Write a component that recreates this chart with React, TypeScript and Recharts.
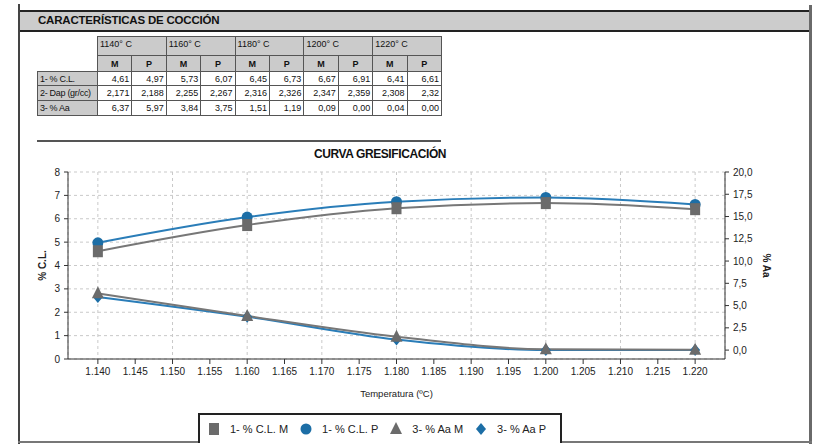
import React from 'react';
import { LineChart, Line, XAxis, YAxis, CartesianGrid } from 'recharts';

const FONT = '"Liberation Sans", Arial, sans-serif';

// firing temperatures (°C)
const temps = [1140, 1160, 1180, 1200, 1220];

// 1- % C.L. (linear shrinkage)
const clM = [4.61, 5.73, 6.45, 6.67, 6.41];
const clP = [4.97, 6.07, 6.73, 6.91, 6.61];

// 2- Dap (g/cc)
const dapM = [2.171, 2.255, 2.316, 2.347, 2.308];
const dapP = [2.188, 2.267, 2.326, 2.359, 2.32];

// 3- % Aa (water absorption)
const aaM = [6.37, 3.84, 1.51, 0.09, 0.04];
const aaP = [5.97, 3.75, 1.19, 0.0, 0.0];

const xTicks = [1140, 1145, 1150, 1155, 1160, 1165, 1170, 1175, 1180, 1185, 1190, 1195, 1200, 1205, 1210, 1215, 1220];
const leftTicks = [0, 1, 2, 3, 4, 5, 6, 7, 8];
const rightTicks = [0, 2.5, 5, 7.5, 10, 12.5, 15, 17.5, 20];

const GRAY = '#6b6b6b';
const GRAY_LINE = '#777777';
const BLUE = '#1c6ea6';
const BLUE_LINE = '#2a7db8';

const chartData = temps.map((t, i) => ({
  temp: t,
  clM: clM[i],
  clP: clP[i],
  aaM: aaM[i],
  aaP: aaP[i],
}));

const comma = (v: number, d?: number) => (d == null ? String(v) : v.toFixed(d)).replace('.', ',');
const thousands = (v: number) => `${Math.floor(v / 1000)}.${String(v % 1000).padStart(3, '0')}`;

const tableRows = [
  { label: '1- % C.L.', m: clM.map((v) => comma(v, 2)), p: clP.map((v) => comma(v, 2)) },
  { label: '2- Dap (gr/cc)', m: dapM.map((v) => comma(v)), p: dapP.map((v) => comma(v)) },
  { label: '3- % Aa', m: aaM.map((v) => comma(v, 2)), p: aaP.map((v) => comma(v, 2)) },
];

type Shape = 'square' | 'circle' | 'triangle' | 'diamond';

const Marker = ({ shape, cx, cy, fill }: { shape: Shape; cx: number; cy: number; fill: string }) => {
  if (shape === 'square') return <rect x={cx - 5} y={cy - 6} width={10} height={12} fill={fill} />;
  if (shape === 'circle') return <circle cx={cx} cy={cy} r={5.5} fill={fill} />;
  if (shape === 'triangle')
    return <polygon points={`${cx},${cy - 7} ${cx + 6},${cy + 5} ${cx - 6},${cy + 5}`} fill={fill} />;
  return <polygon points={`${cx},${cy - 6} ${cx + 5},${cy} ${cx},${cy + 6} ${cx - 5},${cy}`} fill={fill} />;
};

const dotOf = (shape: Shape, fill: string) => (props: any) => {
  const { cx, cy, index } = props;
  if (cx == null || cy == null) return <g key={index} />;
  return (
    <g key={index}>
      <Marker shape={shape} cx={cx} cy={cy} fill={fill} />
    </g>
  );
};

const legendItems: { name: string; shape: Shape; color: string }[] = [
  { name: '1- % C.L. M', shape: 'square', color: GRAY },
  { name: '1- % C.L. P', shape: 'circle', color: BLUE },
  { name: '3- % Aa M', shape: 'triangle', color: GRAY },
  { name: '3- % Aa P', shape: 'diamond', color: BLUE },
];

const cellBorder = '1px solid #555';
const grayCell = '#cbcbcb';

const App: React.FC = () => {
  return (
    <div style={{ position: 'absolute', left: 0, top: 0, width: 817, height: 445, background: '#fff', fontFamily: FONT, overflow: 'hidden' }}>
      {/* page frame */}
      <div style={{ position: 'absolute', left: 18, top: 4, width: 2, height: 440, background: '#444' }} />
      <div style={{ position: 'absolute', left: 809, top: 5, width: 3, height: 439, background: '#6a6a6a' }} />
      <div style={{ position: 'absolute', left: 18, top: 441, width: 794, height: 2, background: '#777' }} />

      {/* section header */}
      <div
        style={{
          position: 'absolute', left: 20, top: 10, width: 789, height: 18,
          background: '#cccccc', borderTop: '2px solid #222', borderBottom: '2px solid #222',
        }}
      >
        <span style={{ position: 'absolute', left: 18, top: 2, fontSize: 11.5, fontWeight: 'bold', color: '#111', letterSpacing: -0.2 }}>
          CARACTERÍSTICAS DE COCCIÓN
        </span>
      </div>

      {/* values table */}
      <table
        style={{
          position: 'absolute', left: 37, top: 36, borderCollapse: 'collapse', fontSize: 9,
          color: '#111', tableLayout: 'fixed', width: 404,
        }}
      >
        <colgroup>
          <col style={{ width: 60 }} />
          {temps.flatMap((t) => [<col key={`m${t}`} style={{ width: 34.4 }} />, <col key={`p${t}`} style={{ width: 34.4 }} />])}
        </colgroup>
        <tbody>
          <tr style={{ height: 19 }}>
            <td />
            {temps.map((t) => (
              <td key={t} colSpan={2} style={{ border: cellBorder, background: grayCell, padding: '0 2px', verticalAlign: 'top', paddingTop: 2 }}>
                {`${t}° C`}
              </td>
            ))}
          </tr>
          <tr style={{ height: 16 }}>
            <td />
            {temps.flatMap((t) => [
              <td key={`m${t}`} style={{ border: cellBorder, background: grayCell, textAlign: 'center', fontWeight: 'bold' }}>M</td>,
              <td key={`p${t}`} style={{ border: cellBorder, background: grayCell, textAlign: 'center', fontWeight: 'bold' }}>P</td>,
            ])}
          </tr>
          {tableRows.map((r, ri) => (
            <tr key={r.label} style={{ height: ri === 0 ? 14 : 15 }}>
              <td style={{ border: cellBorder, background: grayCell, padding: '0 2px', whiteSpace: 'nowrap', letterSpacing: -0.3 }}>{r.label}</td>
              {temps.flatMap((t, i) => [
                <td key={`m${t}`} style={{ border: cellBorder, textAlign: 'right', padding: '0 2px' }}>{r.m[i]}</td>,
                <td key={`p${t}`} style={{ border: cellBorder, textAlign: 'right', padding: '0 2px' }}>{r.p[i]}</td>,
              ])}
            </tr>
          ))}
        </tbody>
      </table>
      <div style={{ position: 'absolute', left: 37, top: 140, width: 404, height: 2, background: '#555' }} />

      {/* chart title */}
      <div style={{ position: 'absolute', left: 0, width: 760, top: 147, textAlign: 'center', fontSize: 12, fontWeight: 'bold', color: '#111', letterSpacing: -0.4 }}>
        CURVA GRESIFICACIÓN
      </div>

      <div style={{ position: 'absolute', left: 0, top: 160 }}>
        <LineChart width={817} height={245} data={chartData} margin={{ top: 12, right: 32, bottom: 6, left: 8 }}>
          <CartesianGrid yAxisId="left" strokeDasharray="3 3" stroke="#c9c9c9" />
          <XAxis
            dataKey="temp"
            type="number"
            domain={[1136, 1224]}
            ticks={xTicks}
            tickFormatter={thousands}
            height={40}
            stroke="#333"
            tickSize={5}
            tickMargin={4}
            tick={{ fontSize: 10, fill: '#222', fontFamily: FONT }}
            label={{ value: 'Temperatura (ºC)', position: 'insideBottom', offset: 2, fontSize: 9.5, fill: '#222', fontFamily: FONT }}
          />
          <YAxis
            yAxisId="left"
            domain={[0, 8]}
            ticks={leftTicks}
            width={60}
            stroke="#333"
            tickSize={4}
            tickMargin={4}
            tick={{ fontSize: 10, fill: '#222', fontFamily: FONT }}
            label={{ value: '% C.L.', angle: -90, position: 'insideLeft', offset: 34, fontSize: 10, fontWeight: 'bold', fill: '#222', fontFamily: FONT, style: { textAnchor: 'middle' } }}
          />
          <YAxis
            yAxisId="right"
            orientation="right"
            domain={[-1, 20]}
            ticks={rightTicks}
            allowDataOverflow
            width={60}
            stroke="#333"
            tickSize={4}
            tickMargin={4}
            tickFormatter={(v: number) => comma(v, 1)}
            tick={{ fontSize: 10, fill: '#222', fontFamily: FONT }}
            label={{ value: '% Aa', angle: 90, position: 'insideRight', offset: 18, fontSize: 10, fontWeight: 'bold', fill: '#222', fontFamily: FONT, style: { textAnchor: 'middle' } }}
          />
          <Line yAxisId="left" type="monotone" dataKey="clP" stroke={BLUE_LINE} strokeWidth={2} dot={dotOf('circle', BLUE)} isAnimationActive={false} />
          <Line yAxisId="left" type="monotone" dataKey="clM" stroke={GRAY_LINE} strokeWidth={2} dot={dotOf('square', GRAY)} isAnimationActive={false} />
          <Line yAxisId="right" type="monotone" dataKey="aaP" stroke={BLUE_LINE} strokeWidth={2} dot={dotOf('diamond', BLUE)} isAnimationActive={false} />
          <Line yAxisId="right" type="monotone" dataKey="aaM" stroke={GRAY_LINE} strokeWidth={2} dot={dotOf('triangle', GRAY)} isAnimationActive={false} />
        </LineChart>
      </div>

      {/* legend */}
      <div
        style={{
          position: 'absolute', left: 198, top: 413, width: 364, height: 30, border: '2px solid #222', borderBottom: 'none',
          background: '#fff', display: 'flex', alignItems: 'center', paddingLeft: 7, boxSizing: 'border-box', fontSize: 11, color: '#222',
        }}
      >
        {legendItems.map((it) => (
          <div key={it.name} style={{ display: 'flex', alignItems: 'center', marginRight: 11 }}>
            <svg width={14} height={14} style={{ marginRight: 9 }}>
              <Marker shape={it.shape} cx={7} cy={7} fill={it.color} />
            </svg>
            <span>{it.name}</span>
          </div>
        ))}
      </div>
    </div>
  );
};

export default App;
